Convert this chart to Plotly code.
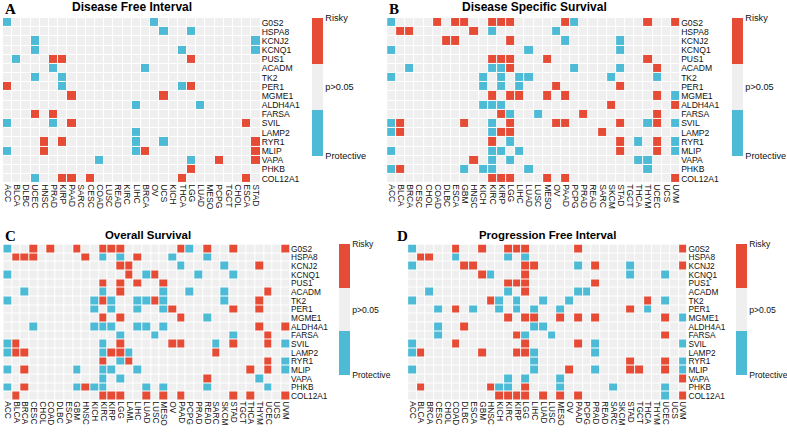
import plotly.graph_objects as go

# ---------------- data ----------------
GENES = ["G0S2", "HSPA8", "KCNJ2", "KCNQ1", "PUS1", "ACADM", "TK2", "PER1", "MGME1",
         "ALDH4A1", "FARSA", "SVIL", "LAMP2", "RYR1", "MLIP", "VAPA", "PHKB", "COL12A1"]

DFI_CANCERS = ["ACC", "BLCA", "DLBC", "UCEC", "HNSC", "PRAD", "KIRP", "PAAD", "SARC", "CESC",
               "COAD", "LUSC", "READ", "KIRC", "LIHC", "BRCA", "OV", "UCS", "KICH", "THCA",
               "LGG", "LUAD", "MESO", "PCPG", "TGCT", "CHOL", "ESCA", "STAD"]
DFI_RISKY = {
    "PUS1": ["PRAD", "KIRP", "LGG"], "PER1": ["ACC", "LGG"], "MGME1": ["PAAD", "UCS"],
    "FARSA": ["UCEC", "PRAD"], "SVIL": ["PAAD", "ESCA"], "RYR1": ["HNSC", "KIRP", "STAD"],
    "MLIP": ["HNSC", "BRCA", "STAD"], "VAPA": ["PCPG", "STAD"], "PHKB": ["LGG"],
    "COL12A1": ["KIRP", "PAAD", "CESC", "THCA", "ESCA"],
}
DFI_PROTECTIVE = {
    "G0S2": ["ACC", "OV"], "HSPA8": ["UCS", "LGG"], "KCNJ2": ["UCEC", "STAD"],
    "KCNQ1": ["UCEC", "THCA", "STAD"], "PUS1": ["BLCA"], "ACADM": ["PRAD", "BRCA"],
    "TK2": ["UCEC", "KIRP"], "PER1": ["KIRP", "THCA"], "ALDH4A1": ["LIHC", "LUAD"],
    "SVIL": ["ACC", "PRAD"], "LAMP2": ["LIHC"], "RYR1": ["LIHC", "UCS"],
    "MLIP": ["ACC", "LIHC"], "VAPA": ["COAD", "LGG"], "COL12A1": ["UCEC"],
}

DSS_CANCERS = ["ACC", "BLCA", "BRCA", "CESC", "CHOL", "COAD", "DLBC", "ESCA", "GBM", "HNSC",
               "KICH", "KIRC", "KIRP", "LGG", "LIHC", "LUAD", "LUSC", "MESO", "OV", "PAAD",
               "PCPG", "PRAD", "READ", "SARC", "SKCM", "STAD", "TGCT", "THCA", "THYM", "UCEC",
               "UCS", "UVM"]
DSS_RISKY = {
    "G0S2": ["COAD", "ESCA", "GBM", "KIRC", "KIRP", "LGG", "PAAD", "THYM", "UVM"],
    "HSPA8": ["BLCA", "BRCA", "HNSC"], "KCNJ2": ["DLBC", "ESCA", "LGG"],
    "PUS1": ["KIRC", "KIRP", "LGG", "MESO", "THYM"], "ACADM": ["LGG", "UCEC"],
    "PER1": ["OV", "STAD"], "MGME1": ["KIRC", "LGG", "LIHC", "MESO", "PAAD", "UCEC"],
    "ALDH4A1": ["SKCM", "UVM"], "FARSA": ["KIRP", "PRAD", "UCEC"],
    "SVIL": ["BLCA", "GBM", "LGG", "OV", "PAAD", "STAD", "UCEC"],
    "LAMP2": ["BLCA", "KIRP", "LGG", "SARC"], "RYR1": ["KIRC", "STAD", "UCEC"],
    "MLIP": ["STAD", "UCEC"], "VAPA": ["HNSC"], "PHKB": ["BLCA"],
    "COL12A1": ["KIRC", "KIRP", "LGG", "MESO", "PAAD", "UVM"],
}
DSS_PROTECTIVE = {
    "G0S2": ["ACC", "PCPG"], "HSPA8": ["KIRC", "OV"], "KCNJ2": ["PAAD", "STAD"],
    "KCNQ1": ["ACC", "LUAD", "STAD"], "ACADM": ["BRCA", "KIRC", "KIRP", "PCPG", "STAD"],
    "TK2": ["ACC", "KICH", "KIRP", "LIHC", "LUAD", "SKCM", "UCEC"],
    "PER1": ["KICH", "KIRP", "LIHC"], "MGME1": ["UVM"], "ALDH4A1": ["KICH", "KIRC", "KIRP"],
    "FARSA": ["LGG", "LUSC"], "SVIL": ["ACC", "KIRC", "THYM", "UVM"], "LAMP2": ["ACC", "KIRC"],
    "RYR1": ["LGG", "THCA", "UVM"], "MLIP": ["ACC", "KIRC", "KIRP", "LIHC", "UVM"],
    "VAPA": ["KIRC", "LGG", "THCA", "THYM"], "PHKB": ["ACC", "GBM", "KICH", "KIRC", "LUAD", "THYM"],
}

OS_CANCERS = ["ACC", "BLCA", "BRCA", "CESC", "CHOL", "COAD", "DLBC", "ESCA", "GBM", "HNSC",
              "KICH", "KIRC", "KIRP", "LGG", "LAML", "LIHC", "LUAD", "LUSC", "MESO", "OV",
              "PAAD", "PCPG", "PRAD", "READ", "SARC", "SKCM", "STAD", "TGCT", "THCA", "THYM",
              "UCEC", "UCS", "UVM"]
OS_RISKY = {
    "G0S2": ["CESC", "COAD", "GBM", "KIRC", "KIRP", "LGG", "PAAD", "READ", "STAD", "UVM"],
    "HSPA8": ["BLCA", "BRCA", "CESC", "HNSC", "LIHC"], "KCNJ2": ["LGG", "LAML", "THYM"],
    "KCNQ1": ["LAML", "LUSC"], "PUS1": ["KIRC", "LGG", "LIHC", "MESO"], "ACADM": ["LGG", "UCEC"],
    "TK2": ["KIRC", "LUSC", "THYM"], "PER1": ["OV", "STAD", "THYM"],
    "MGME1": ["KIRC", "LGG", "PAAD"], "ALDH4A1": ["THYM", "UVM"], "FARSA": ["UCEC"],
    "SVIL": ["BLCA", "LGG", "OV", "PAAD", "STAD", "UCEC"],
    "LAMP2": ["BLCA", "BRCA", "KIRP", "LGG", "SARC"], "RYR1": ["KIRC", "LAML", "UCEC"],
    "MLIP": ["BRCA", "THCA", "UCEC"], "VAPA": ["READ"], "PHKB": ["BRCA", "HNSC"],
    "COL12A1": ["BLCA", "KIRC", "KIRP", "LGG", "LUAD", "MESO", "PAAD", "STAD", "THCA", "UVM"],
}
OS_PROTECTIVE = {
    "G0S2": ["ACC", "PCPG"], "HSPA8": ["KIRC", "LGG", "OV", "READ"], "KCNJ2": ["PAAD", "SKCM"],
    "KCNQ1": ["ACC", "LUAD", "PRAD", "STAD"], "ACADM": ["BRCA", "KIRC", "MESO", "PCPG", "SKCM"],
    "TK2": ["ACC", "KICH", "KIRP", "LIHC", "LUAD", "MESO", "SKCM"],
    "PER1": ["KICH", "KIRP", "LIHC", "MESO"], "MGME1": ["READ"],
    "ALDH4A1": ["CESC", "KICH", "KIRC", "KIRP", "LIHC", "LUAD", "MESO"],
    "FARSA": ["LGG", "LUSC", "STAD"], "SVIL": ["ACC", "KIRC", "SARC", "UVM"],
    "LAMP2": ["ACC", "KIRC", "LAML"], "RYR1": ["LGG", "UVM"],
    "MLIP": ["ACC", "GBM", "KIRC", "KIRP", "LIHC", "UVM"], "VAPA": ["KIRC", "LGG", "THYM"],
    "PHKB": ["ACC", "GBM", "KICH", "KIRC", "LUAD", "MESO", "READ", "UCEC"],
}

PFI_CANCERS = ["ACC", "BLCA", "BRCA", "CESC", "CHOL", "COAD", "DLBC", "ESCA", "GBM", "HNSC",
               "KICH", "KIRC", "KIRP", "LGG", "LIHC", "LUAD", "LUSC", "MESO", "OV", "PAAD",
               "PCPG", "PRAD", "READ", "SARC", "SKCM", "STAD", "TGCT", "THCA", "THYM", "UCEC",
               "UCS", "UVM"]
PFI_RISKY = {
    "G0S2": ["COAD", "GBM", "KIRC", "KIRP", "LGG", "PAAD", "UVM"], "HSPA8": ["BLCA", "BRCA"],
    "KCNJ2": ["DLBC", "ESCA", "LGG", "LIHC", "PRAD", "UVM"], "KCNQ1": ["GBM", "LGG"],
    "PUS1": ["KIRC", "KIRP", "LGG", "PRAD"], "ACADM": ["LGG"], "TK2": ["HNSC", "THCA"],
    "PER1": ["COAD", "STAD"], "MGME1": ["KIRC", "LGG", "LIHC", "MESO", "PAAD", "PRAD", "UCEC"],
    "ALDH4A1": ["DLBC"], "FARSA": ["KIRP", "UCEC"], "SVIL": ["COAD", "LGG", "PAAD"],
    "LAMP2": ["BLCA", "GBM", "KIRP", "LGG"], "RYR1": ["STAD", "UCEC"],
    "MLIP": ["OV", "STAD", "TGCT", "UCEC"], "VAPA": ["UVM"], "PHKB": ["BLCA", "HNSC", "LGG"],
    "COL12A1": ["KICH", "KIRC", "KIRP", "LGG", "LUAD", "MESO", "PAAD", "UVM"],
}
PFI_PROTECTIVE = {
    "G0S2": ["ACC"], "HSPA8": ["COAD", "KIRC", "LGG"], "KCNJ2": ["ACC", "PAAD", "STAD"],
    "KCNQ1": ["HNSC", "STAD", "UCEC"], "ACADM": ["BRCA", "KIRC", "PAAD", "PCPG"],
    "TK2": ["ACC", "KICH", "KIRP", "LUAD", "OV", "UCEC"],
    "PER1": ["CESC", "ESCA", "KICH", "KIRP", "LIHC", "MESO", "THCA"], "MGME1": ["UVM"],
    "ALDH4A1": ["CESC", "LIHC", "LUAD"], "FARSA": ["CESC", "LGG", "LUSC"],
    "SVIL": ["ACC", "PRAD", "UVM"], "LAMP2": ["ACC", "LIHC", "PRAD"], "RYR1": ["LIHC", "UVM"],
    "MLIP": ["ACC", "LIHC", "PRAD", "UVM"], "VAPA": ["KIRC", "LGG", "MESO"],
    "PHKB": ["KICH", "KIRC", "MESO", "SARC", "UCEC"], "COL12A1": ["UCEC"],
}

TITLES = ["Disease Free Interval", "Disease Specific Survival", "Overall Survival",
          "Progression Free Interval"]
LETTERS = ["A", "B", "C", "D"]
LEGEND_LABELS = ["Protective", "p>0.05", "Risky"]

# ---------------- styling / layout ----------------
W, H = 787, 432
RED, BLUE, GREY = "#E64B35", "#4DBBD5", "#EFEFEF"
SANS = "Liberation Sans, Arial, sans-serif"
SERIF = "Liberation Serif, Times New Roman, serif"


def fx(px):
    return px / W


def fy(py):
    return 1 - py / H


# pixel geometry of each panel
GEOM = [
    dict(x0=3.0, x1=261.0, y0=17.0, y1=183.0, lx=312, llen=138, title_x=132, title_y=6.5,
         let_x=3, let_y=8, tfs=12, fs=8.6, lfs=9.2),
    dict(x0=387.6, x1=681.0, y0=17.0, y1=183.0, lx=733, llen=138, title_x=535, title_y=6.5,
         let_x=387, let_y=8, tfs=12, fs=8.6, lfs=9.2),
    dict(x0=3.3, x1=290.4, y0=244.6, y1=401.2, lx=339, llen=131, title_x=148, title_y=235,
         let_x=3, let_y=236, tfs=11.4, fs=8.3, lfs=8.6),
    dict(x0=408.6, x1=688.3, y0=244.6, y1=401.2, lx=737, llen=131, title_x=548, title_y=235,
         let_x=396, let_y=236, tfs=11.4, fs=8.3, lfs=8.6),
]

PANELS = [
    (DFI_CANCERS, DFI_RISKY, DFI_PROTECTIVE),
    (DSS_CANCERS, DSS_RISKY, DSS_PROTECTIVE),
    (OS_CANCERS, OS_RISKY, OS_PROTECTIVE),
    (PFI_CANCERS, PFI_RISKY, PFI_PROTECTIVE),
]

colorscale = [[0, BLUE], [1 / 3, BLUE], [1 / 3, GREY], [2 / 3, GREY], [2 / 3, RED], [1, RED]]

fig = go.Figure()
annotations = []
layout_axes = {}

for i, ((cancers, risky, prot), g) in enumerate(zip(PANELS, GEOM)):
    z = []
    for gene in GENES:
        row = []
        for c in cancers:
            if c in risky.get(gene, []):
                row.append(1)
            elif c in prot.get(gene, []):
                row.append(-1)
            else:
                row.append(0)
        z.append(row)
    sfx = "" if i == 0 else str(i + 1)
    fig.add_trace(go.Heatmap(
        z=z, x=cancers, y=GENES, zmin=-1, zmax=1, colorscale=colorscale,
        xgap=1, ygap=1, xaxis="x" + sfx, yaxis="y" + sfx, hoverinfo="skip",
        colorbar=dict(
            x=fx(g["lx"]), xanchor="left", y=fy(g["y0"]), yanchor="top",
            len=g["llen"], lenmode="pixels", thickness=11, thicknessmode="pixels",
            tickvals=[-1, 0, 1], ticktext=LEGEND_LABELS, ticks="", outlinewidth=0,
            xpad=0, ypad=0, tickfont=dict(family=SANS, size=g["lfs"], color="#111"),
        ),
    ))
    layout_axes["xaxis" + sfx] = dict(
        domain=[fx(g["x0"]), fx(g["x1"])], anchor="y" + sfx, tickangle=90,
        showgrid=False, zeroline=False, showline=False, ticks="",
        tickmode="array", tickvals=list(cancers), ticktext=list(cancers),
        tickfont=dict(family=SANS, size=g["fs"], color="#111"),
        range=[-0.5, len(cancers) - 0.5], fixedrange=True,
    )
    layout_axes["yaxis" + sfx] = dict(
        domain=[fy(g["y1"]), fy(g["y0"])], anchor="x" + sfx, side="right",
        showgrid=False, zeroline=False, showline=False, ticks="",
        tickmode="array", tickvals=list(GENES), ticktext=list(GENES),
        tickfont=dict(family=SANS, size=g["fs"], color="#111"),
        range=[len(GENES) - 0.5, -0.5], fixedrange=True,
    )
    annotations.append(dict(
        text="<b>" + TITLES[i] + "</b>", x=fx(g["title_x"]), y=fy(g["title_y"]),
        xref="paper", yref="paper", xanchor="center", yanchor="middle", showarrow=False,
        font=dict(family=SANS, size=g["tfs"], color="#000"),
    ))
    annotations.append(dict(
        text="<b>" + LETTERS[i] + "</b>", x=fx(g["let_x"]), y=fy(g["let_y"]),
        xref="paper", yref="paper", xanchor="left", yanchor="middle", showarrow=False,
        font=dict(family=SERIF, size=15, color="#000"),
    ))

fig.update_layout(
    width=W, height=H, autosize=False,
    margin=dict(l=0, r=0, t=0, b=0, pad=0),
    paper_bgcolor="white", plot_bgcolor="white",
    annotations=annotations, showlegend=False,
    **layout_axes,
)

fig.write_html("out.html")
